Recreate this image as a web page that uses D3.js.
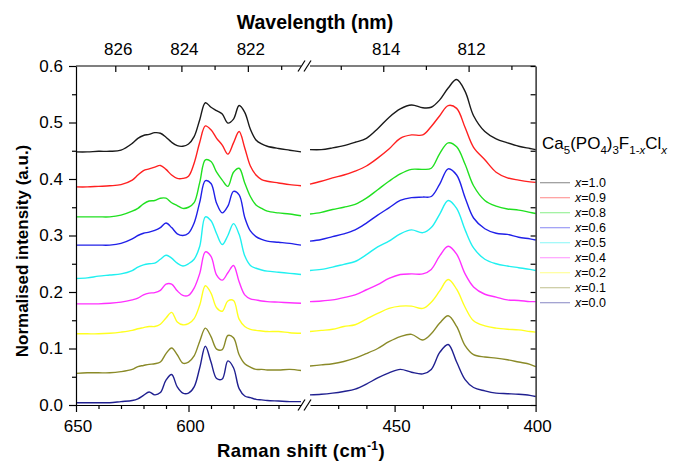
<!DOCTYPE html>
<html><head><meta charset="utf-8">
<script src="https://cdn.jsdelivr.net/npm/d3@7"></script>
<style>body{margin:0;background:#fff} svg text{font-family:Arial,"Liberation Sans",sans-serif;fill:#000}</style>
</head><body><svg id="c" width="673" height="463"></svg>
<script>
// ---- data ----
const leftShift = [650,645,640,635,630,625,622.5,620,617.5,615,612.5,610,607.5,605,602.5,600,597.5,595,592.5,590,587.5,585,582.5,580,577.5,575,572.5,570,567.5,565,560,555,550];
const rightShift = [480,476,472,468,464,460,456,452,448,444,440,437,434,431,428,425,422,418,414,410,406,402,400];

const x10L = [0.448,0.448,0.449,0.449,0.451,0.463,0.472,0.477,0.479,0.482,0.481,0.474,0.465,0.459,0.458,0.462,0.475,0.505,0.535,0.527,0.521,0.515,0.499,0.506,0.530,0.518,0.488,0.469,0.462,0.458,0.454,0.451,0.448];
const x09L = [0.386,0.386,0.387,0.388,0.390,0.398,0.407,0.415,0.418,0.421,0.424,0.417,0.407,0.401,0.401,0.405,0.428,0.465,0.494,0.487,0.472,0.460,0.444,0.464,0.484,0.455,0.423,0.407,0.399,0.396,0.393,0.390,0.388];
const x08L = [0.333,0.333,0.333,0.333,0.336,0.343,0.348,0.356,0.361,0.362,0.366,0.366,0.358,0.353,0.348,0.350,0.358,0.394,0.434,0.431,0.412,0.398,0.387,0.412,0.419,0.393,0.369,0.354,0.348,0.343,0.340,0.338,0.335];
const x06L = [0.283,0.283,0.283,0.283,0.286,0.294,0.300,0.304,0.306,0.309,0.314,0.322,0.314,0.303,0.300,0.304,0.322,0.359,0.397,0.392,0.357,0.340,0.352,0.378,0.372,0.332,0.308,0.298,0.293,0.290,0.288,0.286,0.283];
const x05L = [0.224,0.225,0.228,0.230,0.232,0.238,0.244,0.248,0.250,0.251,0.258,0.265,0.260,0.251,0.246,0.250,0.258,0.281,0.333,0.326,0.303,0.284,0.300,0.321,0.302,0.264,0.247,0.242,0.239,0.237,0.235,0.233,0.231];
const x04L = [0.179,0.179,0.179,0.180,0.182,0.186,0.189,0.195,0.198,0.199,0.203,0.214,0.214,0.202,0.194,0.194,0.207,0.233,0.271,0.263,0.230,0.221,0.234,0.247,0.218,0.195,0.188,0.186,0.184,0.183,0.182,0.181,0.180];
const x02L = [0.126,0.126,0.126,0.127,0.129,0.132,0.135,0.137,0.139,0.139,0.143,0.154,0.164,0.147,0.142,0.144,0.153,0.177,0.211,0.198,0.172,0.166,0.184,0.185,0.152,0.139,0.134,0.132,0.131,0.130,0.130,0.128,0.127];
const x01L = [0.056,0.057,0.057,0.057,0.059,0.063,0.068,0.070,0.072,0.073,0.076,0.091,0.101,0.089,0.074,0.076,0.087,0.113,0.136,0.121,0.099,0.098,0.123,0.119,0.089,0.073,0.067,0.063,0.063,0.062,0.062,0.063,0.061];
const x00L = [0.004,0.004,0.004,0.004,0.006,0.008,0.011,0.017,0.023,0.018,0.022,0.044,0.054,0.032,0.021,0.021,0.032,0.066,0.104,0.076,0.047,0.046,0.078,0.066,0.029,0.016,0.013,0.010,0.009,0.008,0.007,0.006,0.006];

const x10R = [0.452,0.452,0.455,0.459,0.465,0.472,0.489,0.509,0.524,0.531,0.526,0.527,0.540,0.561,0.576,0.555,0.512,0.484,0.471,0.464,0.458,0.454,0.452];
const x09R = [0.391,0.396,0.402,0.407,0.414,0.423,0.437,0.453,0.472,0.478,0.478,0.493,0.512,0.530,0.525,0.491,0.456,0.434,0.412,0.402,0.398,0.395,0.394];
const x08R = [0.338,0.341,0.346,0.350,0.355,0.366,0.381,0.396,0.409,0.417,0.417,0.419,0.445,0.464,0.457,0.426,0.388,0.362,0.352,0.347,0.345,0.341,0.339];
const x06R = [0.290,0.293,0.298,0.303,0.310,0.322,0.336,0.349,0.362,0.367,0.368,0.369,0.391,0.418,0.407,0.367,0.331,0.312,0.304,0.302,0.297,0.294,0.292];
const x05R = [0.238,0.240,0.244,0.249,0.254,0.266,0.280,0.290,0.303,0.310,0.305,0.314,0.338,0.362,0.348,0.310,0.278,0.258,0.250,0.246,0.243,0.240,0.238];
const x04R = [0.183,0.184,0.186,0.190,0.195,0.204,0.213,0.224,0.231,0.232,0.232,0.240,0.264,0.281,0.267,0.232,0.209,0.196,0.191,0.186,0.185,0.183,0.183];
const x02R = [0.130,0.132,0.134,0.139,0.142,0.152,0.162,0.171,0.175,0.175,0.171,0.182,0.202,0.222,0.205,0.173,0.149,0.140,0.136,0.134,0.133,0.130,0.129];
const x01R = [0.069,0.071,0.073,0.077,0.083,0.091,0.100,0.112,0.121,0.125,0.115,0.126,0.145,0.158,0.139,0.105,0.089,0.085,0.083,0.080,0.076,0.072,0.068];
const x00R = [0.018,0.019,0.021,0.024,0.028,0.037,0.048,0.057,0.063,0.058,0.055,0.063,0.093,0.107,0.076,0.045,0.031,0.025,0.021,0.020,0.019,0.017,0.015];

const seriesLabels = ["1.0","0.9","0.8","0.6","0.5","0.4","0.2","0.1","0.0"];
const seriesColors = ["#1a1a1a","#ff2020","#20e020","#2020e8","#20f0f0","#ff30ff","#ffff20","#8a8a28","#202090"];
const leftValues = [x10L,x09L,x08L,x06L,x05L,x04L,x02L,x01L,x00L];
const rightValues = [x10R,x09R,x08R,x06R,x05R,x04R,x02R,x01R,x00R];

const yMajor = [0,0.1,0.2,0.3,0.4,0.5,0.6];
const yMinor = [0.05,0.15,0.25,0.35,0.45,0.55];
const bottomMajorL = [650,600], bottomMinorL = [640,630,620,610,590,580,570,560];
const bottomMajorR = [450,400], bottomMinorR = [470,460,440,430,420,410];
const wlMajorL = [826,824,822], wlMinorL = [825,823,821];
const wlMajorR = [814,812], wlMinorR = [815,813,811];
const laserNm = 785;

// ---- scales ----
const svg = d3.select("#c");
const y = d3.scaleLinear().domain([0,0.6]).range([405,66]);
const xL = d3.scaleLinear().domain([650,550]).range([76,301]);
const xR = d3.scaleLinear().domain([480,400]).range([310,535.6]);
const shiftOf = nm => 1e7/laserNm - 1e7/nm;

// ---- curves ----
const gC = svg.append("g");
for (let i = seriesLabels.length-1; i >= 0; i--) {
  const lineL = d3.line().x((d,j)=>xL(leftShift[j])).y(d=>y(d)).curve(d3.curveCatmullRom.alpha(0.5));
  const lineR = d3.line().x((d,j)=>xR(rightShift[j])).y(d=>y(d)).curve(d3.curveCatmullRom.alpha(0.5));
  gC.append("path").attr("d", lineL(leftValues[i])).attr("fill","none").attr("stroke",seriesColors[i]).attr("stroke-width",1.4);
  gC.append("path").attr("d", lineR(rightValues[i])).attr("fill","none").attr("stroke",seriesColors[i]).attr("stroke-width",1.4);
}

// ---- axes ----
const fmt = d3.format(".1f");
function styleAxis(g){ g.selectAll("path,line").attr("stroke","#000").attr("stroke-width",1.2); g.selectAll("text").attr("font-size",17).attr("fill","#000").style("font-family","Arial, 'Liberation Sans', sans-serif"); }

svg.append("g").attr("transform","translate(76,0)")
  .call(d3.axisLeft(y).tickValues(yMajor).tickSize(7).tickSizeOuter(0).tickPadding(6).tickFormat(fmt)).call(styleAxis);
svg.append("g").attr("transform","translate(76,0)")
  .call(d3.axisLeft(y).tickValues(yMinor).tickSize(4).tickFormat("")).call(g=>g.select(".domain").remove()).call(styleAxis);
svg.append("g").attr("transform","translate(535.6,0)")
  .call(d3.axisRight(y).tickValues(yMajor.concat(yMinor)).tickSize(-5).tickSizeOuter(0).tickFormat("")).call(styleAxis);

function bottom(scale, major, minor){
  svg.append("g").attr("transform","translate(0,405)")
    .call(d3.axisBottom(scale).tickValues(major).tickSize(7).tickSizeOuter(0).tickPadding(7.5)).call(styleAxis)
    .selectAll("text").attr("dx",1.5);
  svg.append("g").attr("transform","translate(0,405)")
    .call(d3.axisBottom(scale).tickValues(minor).tickSize(4).tickFormat("")).call(g=>g.select(".domain").remove()).call(styleAxis);
}
bottom(xL, bottomMajorL, bottomMinorL);
bottom(xR, bottomMajorR, bottomMinorR);

// top axis lines
[[xL,76,301],[xR,310,535.6]].forEach(([s,a,b])=>{
  svg.append("line").attr("x1",a).attr("x2",b).attr("y1",66).attr("y2",66).attr("stroke","#000").attr("stroke-width",1.2);
});
function topTicks(scale, major, minor){
  const g = svg.append("g");
  g.selectAll("line.maj").data(major).join("line")
    .attr("x1",d=>scale(shiftOf(d))).attr("x2",d=>scale(shiftOf(d))).attr("y1",66).attr("y2",72)
    .attr("stroke","#000").attr("stroke-width",1.2);
  g.selectAll("line.min").data(minor).join("line")
    .attr("x1",d=>scale(shiftOf(d))).attr("x2",d=>scale(shiftOf(d))).attr("y1",66).attr("y2",70)
    .attr("stroke","#000").attr("stroke-width",1.2);
  g.selectAll("text").data(major).join("text")
    .attr("x",d=>scale(shiftOf(d))+2.5).attr("y",55).attr("text-anchor","middle").attr("font-size",17).text(d=>d);
}
topTicks(xL, wlMajorL, wlMinorL);
topTicks(xR, wlMajorR, wlMinorR);

// break marks
[66,405].forEach(yy=>{
  [[298,305],[304,311]].forEach(([a,b])=>{
    svg.append("line").attr("x1",a).attr("y1",yy+5.5).attr("x2",b).attr("y2",yy-5.5).attr("stroke","#000").attr("stroke-width",1.2);
  });
});

// titles
svg.append("text").attr("x",315).attr("y",28.5).attr("text-anchor","middle").attr("font-size",19.5).attr("font-weight","bold").text("Wavelength (nm)");
const xt = svg.append("text").attr("x",301).attr("y",456.5).attr("text-anchor","middle").attr("font-size",18.5).attr("font-weight","bold").attr("letter-spacing",0.4);
xt.append("tspan").text("Raman shift (cm");
xt.append("tspan").attr("font-size",12).attr("dy",-7).text("-1");
xt.append("tspan").attr("dy",7).text(")");
svg.append("text").attr("transform","translate(27.5,251) rotate(-90)").attr("text-anchor","middle").attr("font-size",17).attr("font-weight","bold").text("Normalised intensity (a.u.)");

// legend title
const lt = svg.append("text").attr("x",542).attr("y",149).attr("font-size",17);
const parts = [["Ca",0],["5",1],["(PO",0],["4",1],[")",0],["3",1],["F",0],["1-",1],["x",2],["Cl",0],["x",3]];
let cur = 0;
parts.forEach(([t,k])=>{
  const sub = k>=1;
  const target = sub?5:0;
  const ts = lt.append("tspan").text(t).attr("font-size",sub?11.5:17).attr("dy",target-cur);
  if (k>=2) ts.attr("font-style","italic");
  cur = target;
});

// legend entries
const lg = svg.append("g");
seriesLabels.forEach((lab,i)=>{
  const yy = 182.7 + i*15;
  lg.append("line").attr("x1",540).attr("x2",570).attr("y1",yy).attr("y2",yy).attr("stroke",seriesColors[i]).attr("stroke-opacity",0.45).attr("stroke-width",1.2);
  const t = lg.append("text").attr("x",575).attr("y",yy+4.5).attr("font-size",12.5);
  t.append("tspan").attr("font-style","italic").text("x");
  t.append("tspan").text("="+lab);
});
</script></body></html>
